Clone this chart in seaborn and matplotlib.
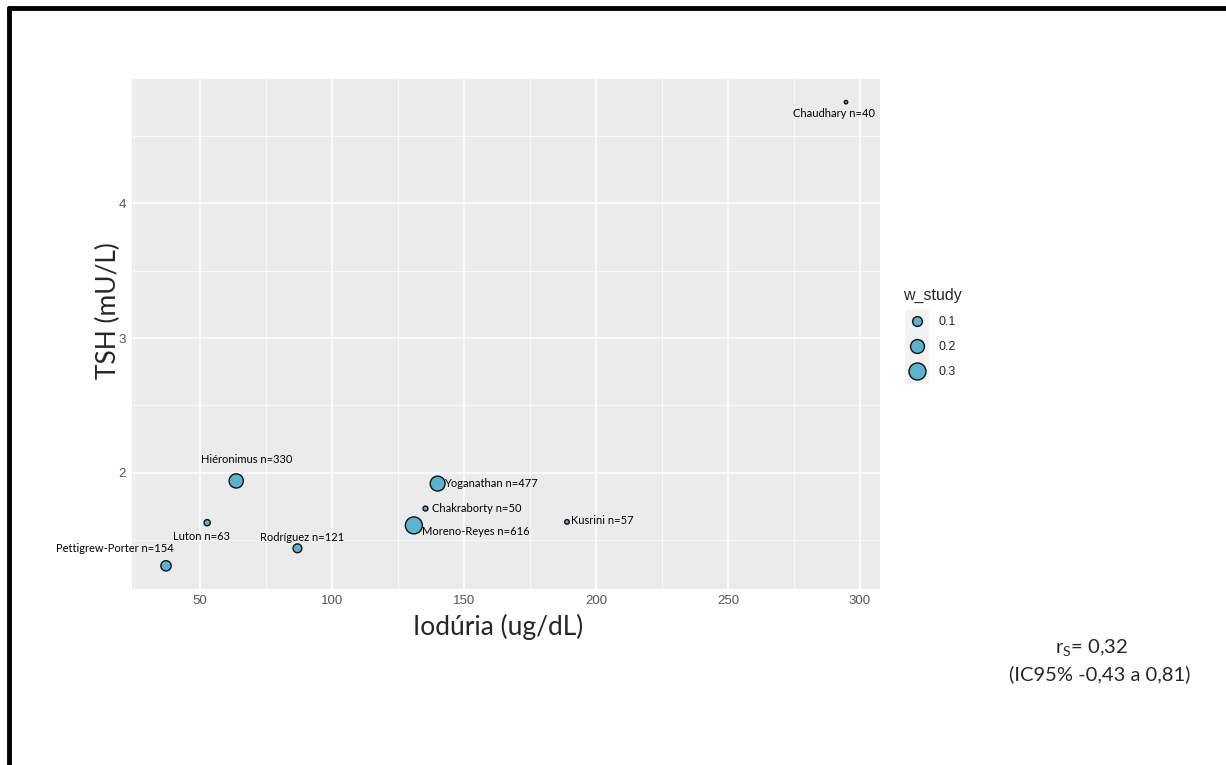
import matplotlib.pyplot as plt
import numpy as np
import pandas as pd
import seaborn as sns
from matplotlib.lines import Line2D
from matplotlib.patches import Rectangle

# studies in the meta-analysis
study = ["Chaudhary", "Hiéronimus", "Luton", "Pettigrew-Porter", "Rodríguez",
         "Yoganathan", "Chakraborty", "Moreno-Reyes", "Kusrini"]
n_study = [40, 330, 63, 154, 121, 477, 50, 616, 57]
iodine = [294.7, 63.7, 52.7, 37.1, 86.9, 140.0, 135.4, 131.0, 189.0]
tsh = [4.75, 1.94, 1.63, 1.31, 1.44, 1.92, 1.735, 1.61, 1.636]
w_study = [0.012, 0.21, 0.04, 0.11, 0.08, 0.23, 0.025, 0.30, 0.022]
legend_w = [0.1, 0.2, 0.3]

W, H = 1226, 765
FILL = "#5AB4CD"
EDGE = "#111111"
PT = 0.72  # pt per pixel at dpi 100
SANS = ["Liberation Sans", "DejaVu Sans"]

df = pd.DataFrame({"study": study, "n": n_study, "iodine": iodine,
                   "tsh": tsh, "w_study": w_study})

sns.set_style("darkgrid", {"axes.facecolor": "#EBEBEB", "grid.color": "white"})
plt.rcParams["font.family"] = ["Lato", "DejaVu Sans"]
plt.rcParams["mathtext.fontset"] = "custom"
plt.rcParams["mathtext.rm"] = "Lato"

fig = plt.figure(figsize=(W / 100, H / 100), dpi=100)
ax = fig.add_axes([132 / W, 1 - 589 / H, (880 - 132) / W, (589 - 79) / H])

s_max, w_max = 150, 0.3
sns.scatterplot(data=df, x="iodine", y="tsh", size="w_study",
                sizes=(0, s_max * 0.32 / w_max), size_norm=(0, 0.32),
                color=FILL, edgecolor=EDGE, linewidth=1.0,
                legend=False, ax=ax, zorder=3)

# axis limits with ggplot style 5% expansion
xs, ys = np.array(iodine), np.array(tsh)
ax.set_xlim(xs.min() - 0.05 * np.ptp(xs), xs.max() + 0.05 * np.ptp(xs))
ax.set_ylim(ys.min() - 0.05 * np.ptp(ys), ys.max() + 0.05 * np.ptp(ys))

ax.set_xticks([50, 100, 150, 200, 250, 300])
ax.set_xticks([25, 75, 125, 175, 225, 275], minor=True)
ax.set_yticks([2, 3, 4])
ax.set_yticks([1.5, 2.5, 3.5, 4.5], minor=True)
ax.grid(which="major", color="white", linewidth=1.1)
ax.grid(which="minor", color="white", linewidth=0.5)
ax.tick_params(which="major", length=2.5, width=0.8, color="#555555",
               labelcolor="#555555", labelsize=9.5, pad=2)
ax.tick_params(which="minor", length=0)
for lab in ax.get_xticklabels() + ax.get_yticklabels():
    lab.set_fontfamily(SANS)
for sp in ax.spines.values():
    sp.set_visible(False)
ax.set_xlabel("")
ax.set_ylabel("")

# study labels, offsets in px (right, down) - placed by hand like the slide
offsets = {"Chaudhary": (-12, 11), "Hiéronimus": (10, -21), "Luton": (-6, 14),
           "Pettigrew-Porter": (-51, -17), "Rodríguez": (5, -11),
           "Yoganathan": (53, 0), "Chakraborty": (51, 0),
           "Moreno-Reyes": (62, 6), "Kusrini": (35, -1)}
for name, n, x, y in zip(study, n_study, iodine, tsh):
    dx, dy = offsets[name]
    ax.annotate(f"{name} n={n}", (x, y), xytext=(dx * PT, -dy * PT),
                textcoords="offset points", ha="center", va="center",
                fontsize=8, color="black", zorder=4)

# axis titles (text boxes on the slide)
fig.text(498 / W, 1 - 627 / H, "Iodúria (ug/dL)", ha="center", va="center",
         fontsize=19)
fig.text(108 / W, 1 - 311 / H, "TSH (mU/L)", ha="center", va="center",
         rotation=90, fontsize=19)

# legend
handles = [Line2D([], [], marker="o", linestyle="", markersize=np.sqrt(s_max * w / w_max),
                  markerfacecolor=FILL, markeredgecolor=EDGE, markeredgewidth=1.0)
           for w in legend_w]
fig.patches.append(Rectangle((905 / W, 1 - 384 / H), 24 / W, 74 / H,
                             transform=fig.transFigure, facecolor="#F2F2F2",
                             edgecolor="none", zorder=-1))
leg = ax.legend(handles, [str(w) for w in legend_w], title="w_study",
                loc="upper left", bbox_to_anchor=(903 / W, 1 - 288 / H),
                bbox_transform=fig.transFigure, frameon=False, borderpad=0,
                borderaxespad=0, labelspacing=1.04, handlelength=2.2,
                handletextpad=0.6, alignment="left",
                prop={"family": SANS, "size": 9})
leg.get_title().set_fontfamily(SANS)
leg.get_title().set_fontsize(11.5)

# correlation text
fig.text(1092 / W, 1 - 648 / H, r"$\mathrm{r_S}$= 0,32", ha="center", va="center",
         fontsize=14.5)
fig.text(1100 / W, 1 - 674 / H, "(IC95% -0,43 a 0,81)", ha="center", va="center",
         fontsize=14.5)

# slide border
fig.add_artist(Line2D([9 / W, 1], [1 - 7.5 / H, 1 - 7.5 / H], color="black",
                      linewidth=3.5, transform=fig.transFigure))
fig.add_artist(Line2D([9 / W, 9 / W], [0, 1 - 7.5 / H], color="black",
                      linewidth=3.5, transform=fig.transFigure))

fig.savefig("out.png", dpi=100, facecolor="white")
